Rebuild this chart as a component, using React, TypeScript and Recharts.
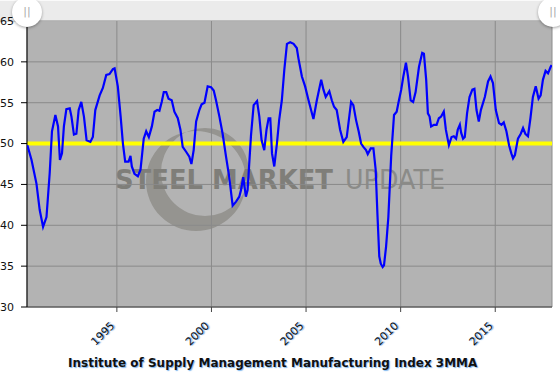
import { LineChart, Line, XAxis, YAxis, CartesianGrid, ReferenceLine } from "recharts";

// ISM manufacturing index, 3-month moving average (decimal year)
const years = [
  1990.27, 1990.49, 1990.75, 1990.92, 1991.1, 1991.28, 1991.45, 1991.57, 1991.75, 1991.89,
  1991.99, 1992.1, 1992.2, 1992.33, 1992.51, 1992.6, 1992.73, 1992.86, 1992.98, 1993.12,
  1993.26, 1993.4, 1993.6, 1993.73, 1993.86, 1994.09, 1994.26, 1994.44, 1994.61, 1994.79,
  1994.88, 1995.05, 1995.2, 1995.32, 1995.44, 1995.62, 1995.72, 1995.79, 1995.93, 1996.11,
  1996.25, 1996.42, 1996.55, 1996.69, 1996.85, 1996.99, 1997.13, 1997.25, 1997.37, 1997.48,
  1997.61, 1997.73, 1997.9, 1998.04, 1998.22, 1998.36, 1998.48, 1998.66, 1998.83, 1998.94,
  1999.06, 1999.19, 1999.36, 1999.48, 1999.63, 1999.8, 1999.98, 2000.12, 2000.24, 2000.42,
  2000.59, 2000.77, 2000.94, 2001.12, 2001.3, 2001.47, 2001.56, 2001.68, 2001.82, 2001.91,
  2002.09, 2002.23, 2002.41, 2002.53, 2002.65, 2002.79, 2002.91, 2003.02, 2003.11, 2003.2,
  2003.32, 2003.46, 2003.58, 2003.72, 2003.85, 2003.99, 2004.16, 2004.34, 2004.51, 2004.6,
  2004.78, 2004.95, 2005.13, 2005.39, 2005.57, 2005.8, 2005.92, 2006.04, 2006.23, 2006.36,
  2006.48, 2006.62, 2006.8, 2006.97, 2007.15, 2007.38, 2007.5, 2007.64, 2007.78, 2007.91,
  2008.03, 2008.17, 2008.26, 2008.42, 2008.56, 2008.68, 2008.77, 2008.87, 2008.95, 2009.05,
  2009.12, 2009.23, 2009.35, 2009.5, 2009.65, 2009.79, 2009.91, 2010.03, 2010.14, 2010.28,
  2010.39, 2010.53, 2010.66, 2010.79, 2010.97, 2011.14, 2011.23, 2011.35, 2011.44, 2011.53,
  2011.61, 2011.76, 2011.9, 2012.02, 2012.14, 2012.28, 2012.39, 2012.55, 2012.69, 2012.81,
  2012.93, 2013.02, 2013.13, 2013.2, 2013.3, 2013.39, 2013.51, 2013.64, 2013.79, 2013.9,
  2014.01, 2014.13, 2014.24, 2014.45, 2014.62, 2014.75, 2014.88, 2015.03, 2015.2, 2015.33,
  2015.45, 2015.59, 2015.73, 2015.85, 2015.94, 2016.04, 2016.2, 2016.35, 2016.47, 2016.59,
  2016.73, 2016.86, 2016.99, 2017.14, 2017.29, 2017.4, 2017.52, 2017.66, 2017.79, 2017.93,
  2017.98,
];
const ismValues = [
  49.8, 48.0, 45.1, 41.9, 39.8, 41.0, 46.4, 51.5, 53.5, 52.1,
  48.0, 48.8, 52.1, 54.2, 54.3, 53.3, 51.1, 51.2, 54.1, 55.1,
  53.3, 50.4, 50.2, 50.8, 54.1, 55.9, 56.8, 58.4, 58.5, 59.1,
  59.2, 57.0, 53.3, 50.0, 47.8, 47.8, 48.5, 47.2, 46.3, 46.0,
  46.8, 50.6, 51.5, 50.8, 52.1, 53.9, 54.1, 54.0, 55.1, 56.3,
  56.3, 55.5, 55.3, 53.9, 53.1, 51.7, 49.6, 49.0, 48.4, 47.5,
  49.2, 52.7, 54.1, 54.8, 55.0, 57.0, 56.9, 56.5, 55.3, 53.3,
  51.2, 48.4, 45.9, 42.4, 42.9, 43.5, 44.3, 45.9, 43.5, 44.3,
  51.0, 54.7, 55.2, 53.3, 50.4, 49.2, 51.7, 53.1, 53.1, 48.8,
  47.2, 50.0, 52.9, 55.3, 59.0, 62.2, 62.4, 62.2, 61.7, 60.4,
  58.2, 57.0, 55.3, 53.0, 55.3, 57.8, 56.6, 55.7, 56.4, 55.3,
  54.5, 54.1, 51.7, 50.2, 50.8, 55.1, 54.7, 52.9, 51.5, 50.0,
  49.6, 49.2, 48.7, 49.4, 49.4, 46.8, 41.5, 36.2, 35.3, 34.9,
  35.1, 37.4, 41.0, 48.5, 53.5, 53.9, 55.3, 56.6, 58.2, 59.9,
  58.2, 55.3, 55.1, 56.3, 59.4, 61.1, 61.0, 57.8, 53.7, 53.3,
  52.1, 52.3, 52.3, 53.1, 53.3, 53.9, 51.7, 49.8, 50.8, 50.9,
  50.6, 51.7, 52.3, 51.3, 50.6, 50.8, 53.7, 55.7, 56.6, 56.7,
  54.1, 52.7, 54.1, 55.7, 57.6, 58.2, 57.4, 54.1, 52.5, 52.3,
  52.6, 51.5, 49.8, 48.8, 48.2, 48.6, 50.6, 51.2, 51.9, 51.2,
  50.9, 53.1, 55.7, 57.0, 55.5, 55.9, 57.8, 58.9, 58.6, 59.4,
  59.6,
];
const yearTicks = [1995, 2000, 2005, 2010, 2015];
const valueTicks = [30, 35, 40, 45, 50, 55, 60, 65];
const TITLE = "Institute of Supply Management Manufacturing Index 3MMA";

const data = years.map((year, i) => ({ year, ism: ismValues[i] }));

const FONT = "'DejaVu Sans', Verdana, sans-serif";
const W = 560;
const H = 372;
const PLOT_TOP = 21;
const PLOT_LEFT = 27;
const PLOT_RIGHT = 8;
const PLOT_BOTTOM = 307;

function YearTick({ x, y, payload }: any) {
  const ax = x - 7;
  const ay = y + 7;
  return (
    <text
      x={ax}
      y={ay}
      transform={`rotate(-45, ${ax}, ${ay})`}
      textAnchor="end"
      dy="0.7em"
      fontSize={11}
      fontFamily={FONT}
      fill="#111"
      style={{ textShadow: "1px 1px 1px rgba(70,150,230,0.8)" }}
    >
      {payload.value}
    </text>
  );
}

function Handle({ cx }: { cx: number }) {
  return (
    <div
      style={{
        position: "absolute", left: cx - 15, top: -3, width: 30, height: 30, borderRadius: 15,
        background: "#fff", boxShadow: "0 1px 3px rgba(0,0,0,0.35)",
        color: "#aaa", fontSize: 11, lineHeight: "30px", textAlign: "center", fontFamily: FONT,
      }}
    >
      ||
    </div>
  );
}

export default function App() {
  return (
    <div style={{ position: "relative", width: W, height: H, overflow: "hidden", background: "#fff", fontFamily: FONT }}>
      <style>{`body{margin:0}`}</style>
      {/* plot background */}
      <div style={{ position: "absolute", left: PLOT_LEFT, top: PLOT_TOP, width: W - PLOT_LEFT - PLOT_RIGHT, height: PLOT_BOTTOM - PLOT_TOP, background: "#b3b3b3" }} />
      {/* watermark */}
      <svg width={W} height={H} style={{ position: "absolute", left: 0, top: 0 }}>
        <path
          d="M146 181 a50 50 0 1 0 100 0 a50 50 0 1 0 -100 0 Z M161 172 a44 44 0 1 0 88 0 a44 44 0 1 0 -88 0 Z"
          fill="#8f8e8a" fillRule="evenodd" opacity={0.85}
        />
        <text x={115} y={189} fontSize={26} fontWeight="bold" fontFamily={FONT} fill="#7f7e79" textLength={218} lengthAdjust="spacingAndGlyphs">
          STEEL MARKET
        </text>
        <text x={345} y={189} fontSize={26} fontFamily={FONT} fill="#8b8b88" textLength={100} lengthAdjust="spacingAndGlyphs">
          UPDATE
        </text>
      </svg>
      {/* range selector bar */}
      <div style={{ position: "absolute", left: 0, top: 0, width: W, height: 22, background: "#ebebeb", borderTop: "1px solid #fafafa", borderBottom: "1px solid #d8d8d8", boxSizing: "border-box" }} />
      <LineChart
        width={W}
        height={H}
        data={data}
        margin={{ top: PLOT_TOP, right: PLOT_RIGHT, left: 0, bottom: 0 }}
        style={{ position: "absolute", left: 0, top: 0 }}
      >
        <CartesianGrid stroke="#8a8a8a" strokeWidth={1} />
        <XAxis
          type="number"
          dataKey="year"
          domain={[1990.25, 2018]}
          ticks={yearTicks}
          allowDataOverflow
          height={H - PLOT_BOTTOM}
          tick={<YearTick />}
          tickSize={5}
          stroke="#444"
          interval={0}
        />
        <YAxis
          type="number"
          domain={[30, 65]}
          ticks={valueTicks}
          width={PLOT_LEFT}
          tickSize={6}
          tickMargin={7}
          stroke="#000"
          tick={{ fontSize: 11, fill: "#111", fontFamily: FONT }}
          interval={0}
        />
        <ReferenceLine y={50} stroke="#ffff00" strokeWidth={4} zIndex={300} />
        <Line type="linear" dataKey="ism" stroke="#0000ff" strokeWidth={2.2} dot={false} isAnimationActive={false} zIndex={500} />
      </LineChart>
      <Handle cx={27} />
      <Handle cx={553} />
      <div
        style={{
          position: "absolute", left: 68, top: 356, whiteSpace: "nowrap",
          fontSize: 12, fontWeight: "bold", color: "#111",
          textShadow: "1px 1px 1px rgba(70,150,230,0.7)",
        }}
      >
        {TITLE}
      </div>
    </div>
  );
}
